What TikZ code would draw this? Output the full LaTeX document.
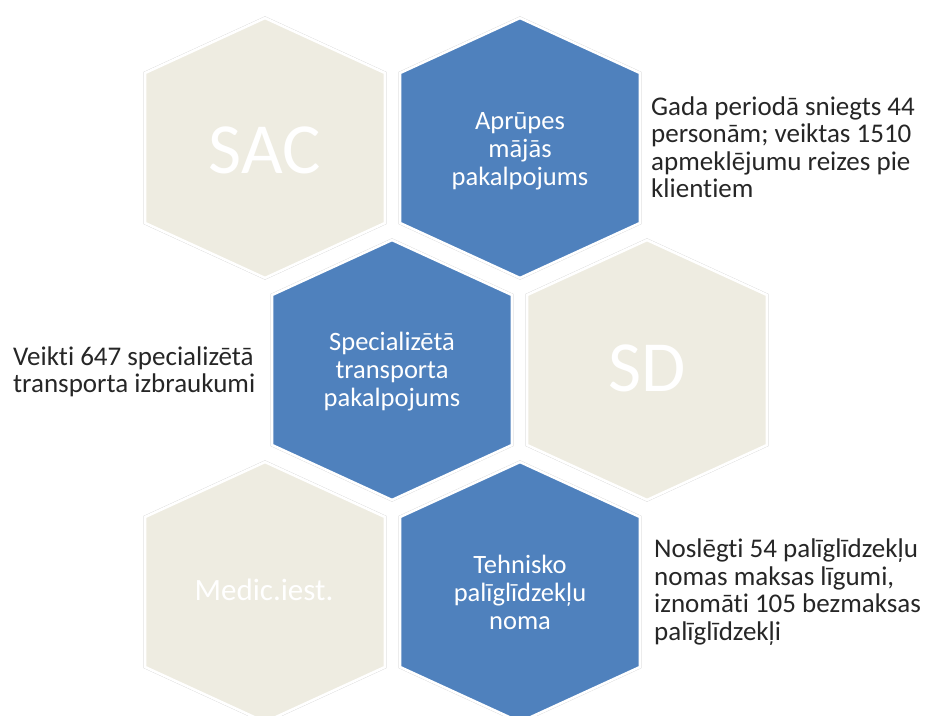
\documentclass[tikz,border=0pt]{standalone}
\usepackage{fontspec}
\setmainfont{Carlito}[Ligatures=NoCommon]
\usepackage{tikz}
\usetikzlibrary{positioning}
\definecolor{hexblue}{HTML}{4F81BD}
\definecolor{hextan}{HTML}{EEECE1}
\definecolor{hexline}{HTML}{D4D4D4}
\definecolor{infogray}{HTML}{262626}

\newcommand{\hexpath}{++(0,130) -- ++(120,-55) -- ++(0,-150) -- ++(-120,-55) -- ++(-120,55) -- ++(0,150) -- cycle}

\begin{document}
\begin{tikzpicture}[x=1pt, y=1pt,
        hexcell/.style={preaction={draw=hexline, line width=3.2pt},
            postaction={draw=white, line width=2.6pt}},
        bigtext/.style={text=white, inner sep=0pt,
            font=\fontsize{72}{80}\selectfont},
        celltext/.style={text=white, inner sep=0pt, align=center,
            font=\fontsize{26.5}{28}\selectfont},
        infotext/.style={text=infogray, inner sep=0pt, align=left,
            anchor=west, font=\fontsize{27}{27.5}\selectfont}]
    \useasboundingbox (0,0) rectangle (929,-715);
    % honeycomb
    \foreach \cx/\cy/\col in {265/148/hextan, 520/148/hexblue,
            392/370/hexblue, 647/370/hextan,
            265/592/hextan, 520/592/hexblue}
        \path[hexcell, fill=\col] (\cx,-\cy) \hexpath;
    % cell labels
    \node[bigtext] (sac) at (265,-150) {SAC};
    \node[bigtext] (sd) at (647,-368) {SD};
    \node[bigtext, font=\fontsize{31}{34}\selectfont] (medic) at (264,-590) {Medic.iest.};
    \node[celltext] (aprupes) at (520,-151) {Aprūpes\\mājās\\pakalpojums};
    \node[celltext] (transports) at (392,-372) {Specializētā\\transporta\\pakalpojums};
    \node[celltext] (noma) at (520,-592) {Tehnisko\\palīglīdzekļu\\noma};
    % side notes
    \node[infotext] (aprinfo) at (651,-147) {Gada periodā sniegts 44\\personām; veiktas 1510\\apmeklējumu reizes pie\\klientiem};
    \node[infotext] (transinfo) at (13,-372) {Veikti 647 specializētā\\transporta izbraukumi};
    \node[infotext] (nomainfo) at (654,-592) {Noslēgti 54 palīglīdzekļu\\nomas maksas līgumi,\\iznomāti 105 bezmaksas\\palīglīdzekļi};
\end{tikzpicture}
\end{document}
